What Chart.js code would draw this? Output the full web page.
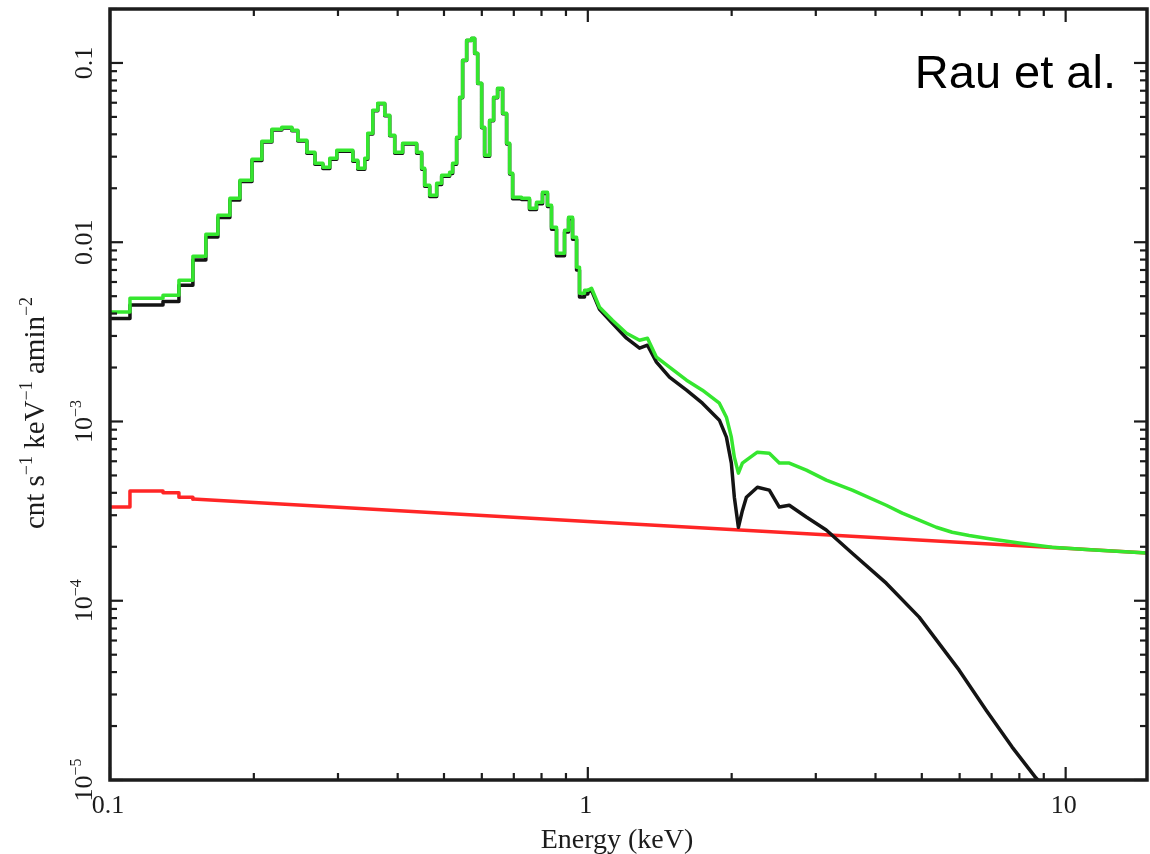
<!DOCTYPE html>
<html>
<head>
<meta charset="utf-8">
<script src="https://cdn.jsdelivr.net/npm/chart.js@4.4.1/dist/chart.umd.min.js"></script>
<style>
  body { margin: 0; background: #fff; }
  #wrap { width: 1150px; height: 854px; }
</style>
</head>
<body>
<div id="wrap"><canvas id="myChart" width="1150" height="854"></canvas></div>
<script>
// binned part of the spectrum: left bin edges in keV, value holds until the next edge
const binEdges = [0.1, 0.1101, 0.1291, 0.1394, 0.1491, 0.1587, 0.1682, 0.1782, 0.1870, 0.1982,
  0.2079, 0.2182, 0.2289, 0.2402, 0.2472, 0.2582, 0.2684, 0.2789, 0.2884, 0.2983,
  0.3222, 0.3300, 0.3413, 0.3463, 0.3548, 0.3634, 0.3758, 0.3849, 0.3943, 0.4097,
  0.4383, 0.4490, 0.4555, 0.4667, 0.4827, 0.4944, 0.5138, 0.5213, 0.5314, 0.5392,
  0.5470, 0.5577, 0.5713, 0.5796, 0.5881, 0.5995, 0.6081, 0.6230, 0.6351, 0.6474,
  0.6632, 0.6761, 0.6860, 0.6960, 0.7265, 0.7550, 0.7809, 0.8038, 0.8233, 0.8394,
  0.8599, 0.8938, 0.9113, 0.9290, 0.9472, 0.9607, 0.9843, 1.0];
const greenBins = [0.004087, 0.004871, 0.005062, 0.006138, 0.008352, 0.01108, 0.01414, 0.01759, 0.02217, 0.02903,
  0.03658, 0.04268, 0.04379, 0.04214, 0.03706, 0.03177, 0.02758, 0.02620, 0.02941, 0.03260,
  0.02867, 0.02586, 0.02941, 0.04055, 0.05447, 0.05958, 0.05108, 0.03952, 0.03177, 0.03565,
  0.03177, 0.02586, 0.02079, 0.01828, 0.02133, 0.02364, 0.02457, 0.02758, 0.03851, 0.06437,
  0.1035, 0.1339, 0.1373, 0.1133, 0.07704, 0.04379, 0.03056, 0.04791, 0.06437, 0.07227,
  0.05242, 0.03565, 0.02426, 0.01782, 0.01759, 0.01548, 0.01671, 0.01901, 0.01608, 0.01213,
  0.008683, 0.01167, 0.01378, 0.01066, 0.007255, 0.005194, 0.005398, 0.005398];
const blackBins = [0.003754, 0.004471, 0.004667, 0.005753, 0.00797, 0.0107, 0.01375, 0.0172, 0.0218, 0.0286,
  0.0362, 0.0423, 0.0434, 0.0418, 0.0367, 0.0314, 0.0272, 0.0258, 0.0290, 0.0322,
  0.0283, 0.0255, 0.0290, 0.0402, 0.0541, 0.0592, 0.0507, 0.0392, 0.0314, 0.0353,
  0.0314, 0.0255, 0.0205, 0.0180, 0.0210, 0.0233, 0.0242, 0.0272, 0.0382, 0.0640,
  0.1031, 0.1335, 0.1369, 0.1129, 0.0767, 0.0435, 0.0302, 0.0476, 0.0640, 0.0719,
  0.0521, 0.0353, 0.0240, 0.0175, 0.0173, 0.0152, 0.0164, 0.0187, 0.0158, 0.0118,
  0.0084, 0.0114, 0.0135, 0.0104, 0.00700, 0.00495, 0.00515, 0.005261];

// smooth model above 1 keV
const greenEnergy = [1.0, 1.018, 1.058, 1.126, 1.205, 1.283, 1.333, 1.392, 1.482, 1.609,
  1.737, 1.885, 1.950, 1.997, 2.026, 2.066, 2.106, 2.147, 2.264, 2.398,
  2.516, 2.640, 2.866, 3.155, 3.576, 4.212, 4.550, 4.937, 5.359, 5.788,
  6.281, 6.818, 7.991, 9.365, 11.03, 15];
const greenSmooth = [0.005398, 0.005538, 0.004339, 0.003673, 0.003107, 0.002840, 0.002914, 0.002284, 0.002009, 0.001700,
  0.001495, 0.001265, 0.001057, 0.0008177, 0.0006324, 0.0005148, 0.000586, 0.0006086, 0.0006743, 0.0006657,
  0.000586, 0.000586, 0.000535, 0.000471, 0.000414, 0.000341, 0.000308, 0.000282, 0.000257, 0.000241,
  0.000231, 0.000223, 0.000210, 0.000199, 0.000193, 0.0001845];
const blackEnergy = [1.0, 1.018, 1.058, 1.126, 1.205, 1.283, 1.333, 1.392, 1.482, 1.609,
  1.737, 1.885, 1.950, 1.997, 2.026, 2.066, 2.106, 2.147, 2.264, 2.398,
  2.516, 2.640, 2.866, 3.155, 3.576, 4.212, 4.937, 5.986, 6.818, 7.727,
  8.672, 9.6];
const blackSmooth = [0.005261, 0.005398, 0.004229, 0.003534, 0.002914, 0.002563, 0.002664, 0.002142, 0.001767, 0.001495,
  0.001265, 0.001017, 0.000818, 0.0005855, 0.000378, 0.000257, 0.000318, 0.000378, 0.000430, 0.000414,
  0.000333, 0.000341, 0.000293, 0.000248, 0.000184, 0.0001253, 0.0000810, 0.0000410, 0.0000245, 0.00001526,
  0.00001025, 0.0000078];

// background power law (red)
const redEdges = [0.1, 0.1101, 0.1291, 0.1394, 0.1491];
const redBins = [0.000333, 0.000409, 0.000400, 0.000378, 0.000369];
const redEnergy = [0.1491, 0.3, 1, 3, 10, 15];
const redSmooth = [0.000369, 0.000332, 0.000277, 0.000235, 0.000196, 0.000184];

// axes
const xDecades = [0.1, 1, 10];
const xTickLabels = ['0.1', '1', '10'];
const yDecades = [0.1, 0.01, 1e-3, 1e-4, 1e-5];
const yTickLabels = [[['0.1']], [['0.01']], [['10'], ['\u22123', 1]], [['10'], ['\u22124', 1]], [['10'], ['\u22125', 1]]];
const minorSteps = [2, 3, 4, 5, 6, 7, 8, 9];

const GREEN = '#35e62f';
const BLACK = '#141414';
const RED = '#ff2626';
const SERIF = '"Liberation Serif", "Times New Roman", serif';

function pts(xs, ys) {
  return xs.map((v, i) => ({ x: v, y: ys[i] }));
}

// text with superscripts, centred on the origin
function richText(ctx, parts, size) {
  let w = 0;
  parts.forEach(p => {
    ctx.font = (p[1] ? Math.round(size * 0.62) : size) + 'px ' + SERIF;
    w += ctx.measureText(p[0]).width;
  });
  let cx = -w / 2;
  parts.forEach(p => {
    ctx.font = (p[1] ? Math.round(size * 0.62) : size) + 'px ' + SERIF;
    ctx.fillText(p[0], cx, p[1] ? -size * 0.42 : 0);
    cx += ctx.measureText(p[0]).width;
  });
}

function seg(ctx, x1, y1, x2, y2) {
  ctx.beginPath();
  ctx.moveTo(x1, y1);
  ctx.lineTo(x2, y2);
  ctx.stroke();
}

const framePlugin = {
  id: 'frame',
  beforeDraw(chart) {
    const ctx = chart.ctx;
    ctx.save();
    ctx.fillStyle = '#fff';
    ctx.fillRect(0, 0, chart.width, chart.height);
    ctx.restore();
  },
  afterDatasetsDraw(chart) {
    const { ctx, chartArea: a, scales: { x, y } } = chart;
    ctx.save();
    ctx.strokeStyle = '#1c1c1c';
    ctx.fillStyle = '#1c1c1c';
    ctx.lineWidth = 2.2;

    // inward ticks, all four sides
    xDecades.forEach(d => {
      [1].concat(minorSteps).forEach(m => {
        const v = d * m;
        if (v < x.min || v > x.max) return;
        const px = x.getPixelForValue(v);
        const len = m === 1 ? 13 : 7;
        seg(ctx, px, a.bottom, px, a.bottom - len);
        seg(ctx, px, a.top, px, a.top + len);
      });
    });
    yDecades.forEach(d => {
      [1].concat(minorSteps).forEach(m => {
        const v = d * m;
        if (v < y.min || v > y.max) return;
        const py = y.getPixelForValue(v);
        const len = m === 1 ? 13 : 7;
        seg(ctx, a.left, py, a.left + len, py);
        seg(ctx, a.right, py, a.right - len, py);
      });
    });

    ctx.lineWidth = 3.5;
    ctx.strokeRect(a.left, a.top, a.right - a.left, a.bottom - a.top);

    // x tick labels
    ctx.textAlign = 'center';
    ctx.textBaseline = 'alphabetic';
    ctx.font = '26px ' + SERIF;
    xDecades.forEach((d, i) => {
      ctx.fillText(xTickLabels[i], x.getPixelForValue(d) - 2, 813);
    });
    ctx.font = '28px ' + SERIF;
    ctx.fillText('Energy (keV)', 617, 848);

    // y tick labels, rotated
    ctx.textAlign = 'left';
    yDecades.forEach((d, i) => {
      ctx.save();
      ctx.translate(92, y.getPixelForValue(d));
      ctx.rotate(-Math.PI / 2);
      richText(ctx, yTickLabels[i], 26);
      ctx.restore();
    });

    // y axis title
    ctx.save();
    ctx.translate(44, 413);
    ctx.rotate(-Math.PI / 2);
    richText(ctx, [['cnt s'], ['\u22121', 1], [' keV'], ['\u22121', 1], [' amin'], ['\u22122', 1]], 29);
    ctx.restore();

    // annotation
    ctx.font = '47px "Liberation Sans", Arial, sans-serif';
    ctx.textAlign = 'right';
    ctx.fillStyle = '#000';
    ctx.fillText('Rau et al.', 1116, 88);
    ctx.restore();
  }
};

const ctx = document.getElementById('myChart').getContext('2d');
new Chart(ctx, {
  type: 'line',
  data: {
    datasets: [
      { label: 'total', data: pts(binEdges, greenBins), borderColor: GREEN, stepped: true },
      { label: 'total model', data: pts(greenEnergy, greenSmooth), borderColor: GREEN },
      { label: 'source', data: pts(binEdges, blackBins), borderColor: BLACK, stepped: true },
      { label: 'source model', data: pts(blackEnergy, blackSmooth), borderColor: BLACK },
      { label: 'background', data: pts(redEdges, redBins), borderColor: RED, stepped: true },
      { label: 'background model', data: pts(redEnergy, redSmooth), borderColor: RED }
    ]
  },
  options: {
    responsive: false,
    animation: false,
    layout: { padding: { left: 110, top: 9, right: 3, bottom: 74 } },
    plugins: { legend: { display: false }, tooltip: { enabled: false } },
    elements: {
      point: { radius: 0 },
      line: { borderWidth: 3.5, tension: 0, borderJoinStyle: 'round', borderCapStyle: 'round' }
    },
    scales: {
      x: { type: 'logarithmic', min: 0.1, max: 14.8, display: false },
      y: { type: 'logarithmic', min: 1e-5, max: 0.2, display: false }
    }
  },
  plugins: [framePlugin]
});
</script>
</body>
</html>
